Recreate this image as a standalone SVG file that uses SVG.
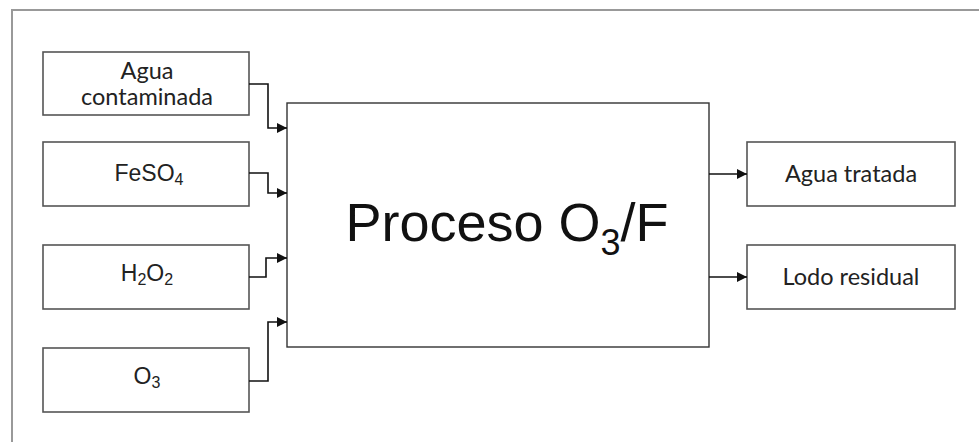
<svg xmlns="http://www.w3.org/2000/svg" width="979" height="442" viewBox="0 0 979 442">
  <defs>
    <marker id="arrow" viewBox="0 0 10 10" refX="10" refY="5" markerWidth="10" markerHeight="10" markerUnits="userSpaceOnUse" orient="auto">
      <path d="M0,0 L10,5 L0,10 Z" fill="#111"/>
    </marker>
    <style>
      .box { fill: #fff; stroke: #555; stroke-width: 1.6; }
      .main { fill: #fff; stroke: #333; stroke-width: 1.4; }
      .lbl { font-family: Lato, "Liberation Sans", sans-serif; font-size: 23.5px; fill: #222; text-anchor: middle; }
      .chem { font-family: "Liberation Sans", Arial, sans-serif; font-size: 23px; fill: #222; text-anchor: middle; }
      .big { font-family: "Liberation Sans", Arial, sans-serif; font-size: 54px; fill: #111; text-anchor: middle; }
      .conn { fill: none; stroke: #111; stroke-width: 1.6; marker-end: url(#arrow); }
    </style>
  </defs>
  <rect width="979" height="442" fill="#fff"/>
  <!-- outer frame -->
  <rect x="12" y="10" width="990" height="450" fill="none" stroke="#999" stroke-width="2"/>

  <g id="agua-contaminada">
    <rect class="box" x="43" y="52" width="206" height="63"/>
    <text class="lbl" x="147" y="79">Agua</text>
    <text class="lbl" x="147" y="105">contaminada</text>
  </g>
  <g id="feso4">
    <rect class="box" x="43" y="142" width="206" height="64"/>
    <text class="chem" x="149" y="181">FeSO<tspan font-size="16" dy="4">4</tspan></text>
  </g>
  <g id="h2o2">
    <rect class="box" x="43" y="245" width="206" height="64"/>
    <text class="chem" x="147" y="281">H<tspan font-size="16" dy="4">2</tspan><tspan dy="-4">O</tspan><tspan font-size="16" dy="4">2</tspan></text>
  </g>
  <g id="o3">
    <rect class="box" x="43" y="348" width="206" height="64"/>
    <text class="chem" x="147" y="384">O<tspan font-size="16" dy="4">3</tspan></text>
  </g>

  <g id="proceso">
    <rect class="main" x="287" y="103" width="422" height="244"/>
    <text class="big" x="507" y="241">Proceso O<tspan font-size="36" dy="14">3</tspan><tspan dy="-14">/F</tspan></text>
  </g>

  <g id="agua-tratada">
    <rect class="box" x="747" y="142" width="208" height="64"/>
    <text class="lbl" x="851" y="182">Agua tratada</text>
  </g>
  <g id="lodo-residual">
    <rect class="box" x="747" y="245" width="208" height="64"/>
    <text class="lbl" x="851" y="285">Lodo residual</text>
  </g>

  <g id="connectors">
    <path class="conn" d="M249,84 H268 V128 H287"/>
    <path class="conn" d="M249,173 H268 V193 H287"/>
    <path class="conn" d="M249,277 H266 V258 H287"/>
    <path class="conn" d="M249,381 H268 V322 H287"/>
    <path class="conn" d="M709,174 H747"/>
    <path class="conn" d="M709,277 H747"/>
  </g>
</svg>
